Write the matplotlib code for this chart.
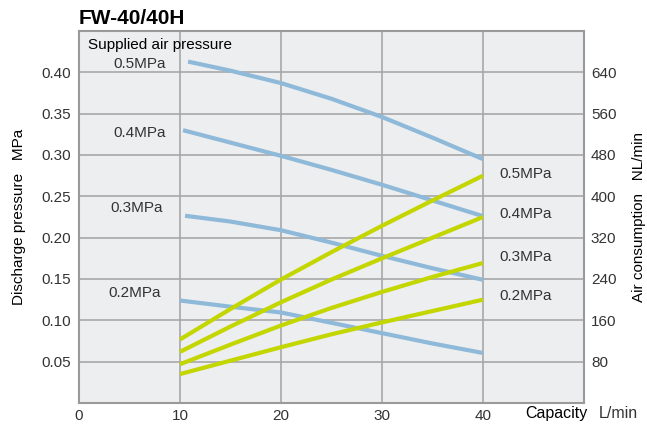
import matplotlib
matplotlib.use("Agg")
import matplotlib.pyplot as plt

plt.rcParams['font.family'] = ['Liberation Sans', 'DejaVu Sans']

# capacity L/min
cap = [10, 15, 20, 25, 30, 35, 40]

# discharge pressure (MPa), left axis, one per supplied pressure
disch_cap = {
    "0.5MPa": [10.8, 15, 20, 25, 30, 35, 40],
    "0.4MPa": [10.3, 15, 20, 25, 30, 35, 40],
    "0.3MPa": [10.5, 15, 20, 25, 30, 35, 40],
    "0.2MPa": [10, 15, 20, 25, 30, 35, 40],
}
disch_05 = [0.413, 0.402, 0.387, 0.368, 0.346, 0.321, 0.295]
disch_04 = [0.330, 0.315, 0.299, 0.282, 0.264, 0.245, 0.226]
disch_03 = [0.2265, 0.2195, 0.209, 0.194, 0.178, 0.163, 0.149]
disch_02 = [0.124, 0.1165, 0.1095, 0.097, 0.0845, 0.072, 0.0605]

# air consumption (NL/min), right axis
air_05 = [123, 182, 239, 292, 343, 392, 440]
air_04 = [99, 148, 195, 239, 280, 320, 360]
air_03 = [75, 113, 150, 184, 215, 244, 271]
air_02 = [56, 82, 108, 133, 156, 178, 200]

labels = ["0.5MPa", "0.4MPa", "0.3MPa", "0.2MPa"]
x_ticks = [0, 10, 20, 30, 40]
left_ticks = [0.05, 0.10, 0.15, 0.20, 0.25, 0.30, 0.35, 0.40]
right_ticks = [80, 160, 240, 320, 400, 480, 560, 640]

blue = "#8fb9d9"
green = "#c4d600"
gridc = "#a8a8a8"
txtc = "#333333"
fs = 11

fig = plt.figure(figsize=(6.47, 4.30), dpi=100)
ax = fig.add_axes([79/647, 1-403/430, (584-79)/647, (403-31)/430])
ax.set_facecolor("#eceef0")
ax.set_xlim(0, 50)
ax.set_ylim(0, 0.45)
ax.set_xticks(x_ticks)
ax.set_yticks(left_ticks)
ax.set_yticklabels([f"{v:.2f}" for v in left_ticks])
ax.grid(True, color=gridc, lw=1.2)
ax.set_axisbelow(True)
for s in ax.spines.values():
    s.set_color("#9a9a9a")
    s.set_linewidth(1.5)
ax.tick_params(length=0, labelsize=fs, labelcolor=txtc, pad=6)
ax.tick_params(axis='x', pad=4)

ax2 = ax.twinx()
ax2.set_ylim(0, 720)
ax2.set_yticks(right_ticks)
ax2.tick_params(length=0, labelsize=fs, labelcolor=txtc, pad=5)
for s in ax2.spines.values():
    s.set_visible(False)

for lab, yv in zip(labels, [disch_05, disch_04, disch_03, disch_02]):
    ax.plot(disch_cap[lab], yv, color=blue, lw=3, solid_capstyle='butt')
for yv in [air_05, air_04, air_03, air_02]:
    ax2.plot(cap, yv, color=green, lw=3, solid_capstyle='butt')

# curve labels
ax.text(0.9, 0.4334, "Supplied air pressure", fontsize=fs, va='center', ha='left', color='black')
for lab, yy, xx in zip(labels, [0.4104, 0.3269, 0.2361, 0.1332], [6.0, 6.0, 5.7, 5.5]):
    ax.text(xx, yy, lab, fontsize=fs, ha='center', va='center', color=txtc)
for lab, yy in zip(labels, [0.2772, 0.2288, 0.1768, 0.1295]):
    ax.text(41.6, yy, lab, fontsize=fs, ha='left', va='center', color=txtc)

ax.set_ylabel("Discharge pressure   MPa", fontsize=fs, labelpad=11)
ax2.set_ylabel("Air consumption   NL/min", fontsize=fs, labelpad=11)
ax.text(44.2, -0.0121, "Capacity", fontsize=11.5, ha='left', va='center', clip_on=False)
ax.text(51.5, -0.0121, "L/min", fontsize=11.5, ha='left', va='center', color=txtc, clip_on=False)

fig.text(79/647, 1-18/430, "FW-40/40H", fontsize=15, fontweight='bold', ha='left', va='center')

fig.savefig("out.png", dpi=100)
